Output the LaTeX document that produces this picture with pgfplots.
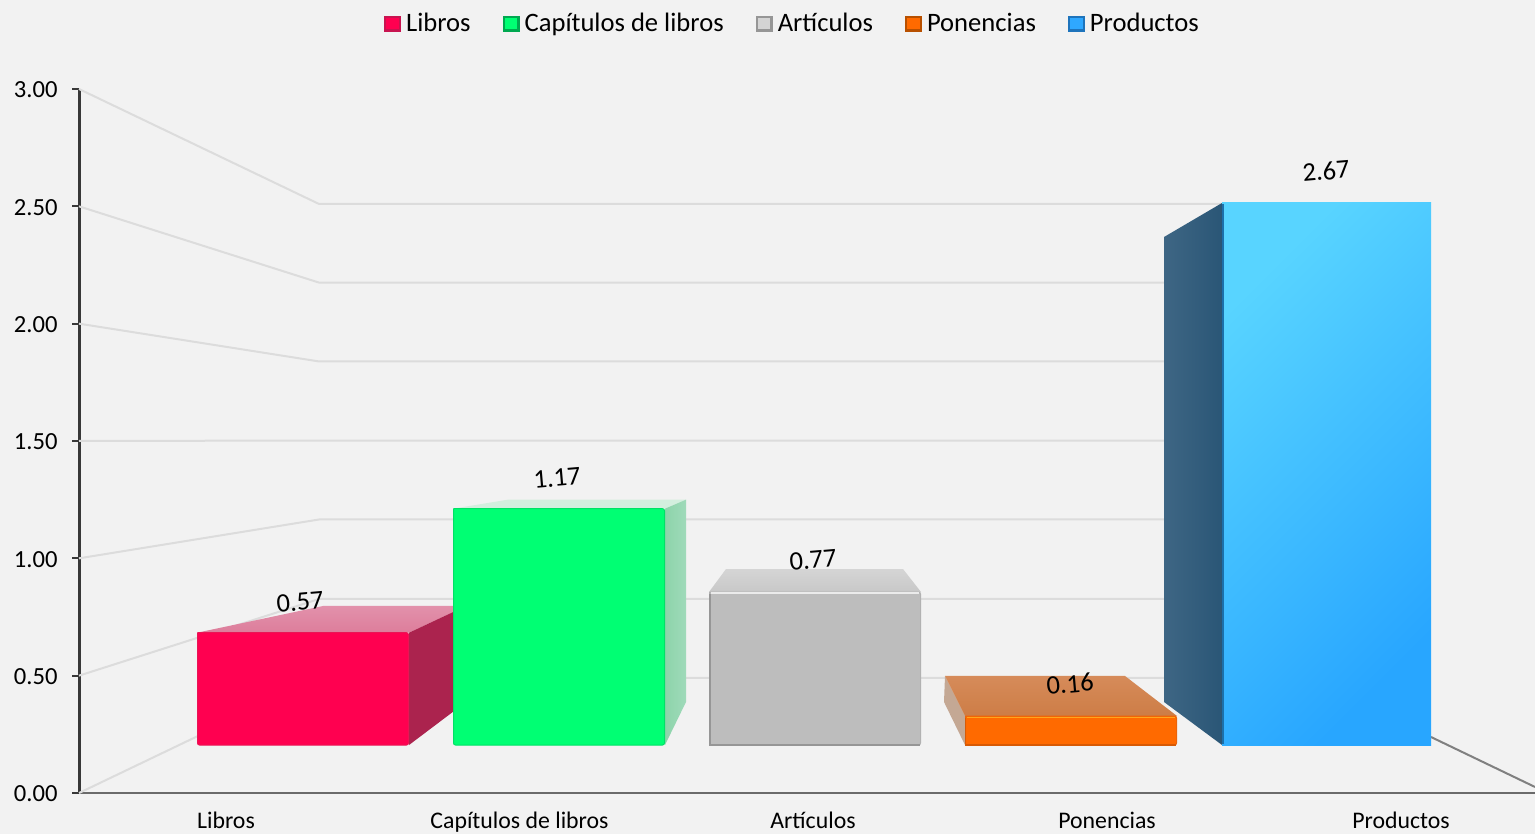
\documentclass[border=0pt]{standalone}
\usepackage{pgfplots}
\pgfplotsset{compat=1.18}
\usepackage{fontspec}
\setmainfont{Carlito}
\definecolor{bg}{HTML}{F2F2F2}
\definecolor{gridc}{HTML}{DCDCDC}
\definecolor{lA}{HTML}{C81450}\definecolor{lAi}{HTML}{FF0050}
\definecolor{lB}{HTML}{00A850}\definecolor{lBi}{HTML}{00FF73}
\definecolor{lC}{HTML}{969696}\definecolor{lCi}{HTML}{D4D4D4}
\definecolor{lD}{HTML}{B85000}\definecolor{lDi}{HTML}{FF6A00}
\definecolor{lE}{HTML}{1E74BC}\definecolor{lEi}{HTML}{2FA8FF}
\newcommand{\legimg}[2]{\addlegendimage{legend image code/.code={%
  \fill[#1] (0pt,-3.75pt) rectangle (8pt,3.75pt);
  \fill[#2] (1.2pt,-2.4pt) rectangle (6.8pt,2.8pt);
  \path (9.6pt,0pt);}}}
\begin{document}
\begin{tikzpicture}
\fill[bg] (0,0) rectangle (767.5pt,417pt);
\path[use as bounding box] (0,0) rectangle (767.5pt,417pt);
\begin{axis}[
  at={(39.5pt,20.5pt)}, anchor=south west,
  scale only axis, width=728pt, height=352pt,
  xmin=79, xmax=1535, ymin=0, ymax=3,
  axis x line=bottom, axis y line=left,
  x axis line style={-, line width=1.4pt, color=black!58},
  y axis line style={-, line width=1.5pt, color=black!78},
  xtick={226,519.5,813,1107,1401},
  xticklabels={Libros,Capítulos de libros,Artículos,Ponencias,Productos},
  xtick style={draw=none},
  ytick={0,0.5,1,1.5,2,2.5,3},
  ytick style={line width=1pt, color=black!78},
  tick align=outside, major tick length=3.5pt,
  /pgf/number format/assume math mode=true,
  /pgf/number format/fixed, /pgf/number format/fixed zerofill, /pgf/number format/precision=2,
  yticklabel style={font=\fontsize{12.3}{14}\selectfont, inner sep=0pt, xshift=-7pt, yshift=-0.4pt},
  xticklabel style={font=\fontsize{11.9}{14}\selectfont, inner sep=0pt, anchor=base, yshift=-14.3pt},
  legend columns=5,
  legend style={draw=none, fill=none, at={(0.4900,1.0925)}, anchor=center,
    font=\fontsize{13.3}{15}\selectfont, inner sep=0pt,
    /tikz/every even column/.append style={column sep=15pt},
    nodes={inner sep=1pt}},
  legend cell align=left,
  clip=false,
]
\legimg{lA}{lAi}
\legimg{lB}{lBi}
\legimg{lC}{lCi}
\legimg{lD}{lDi}
\legimg{lE}{lEi}
\legend{Libros,Capítulos de libros,Artículos,Ponencias,Productos}

% gridlines: side wall then back wall
\pgfplotsset{every axis plot/.append style={forget plot}}
\addplot[gridc,line width=1pt,no marks] coordinates {(79,3) (319,2.510) (1309,2.510)};
\addplot[gridc,line width=1pt,no marks] coordinates {(79,2.5) (319,2.175) (1309,2.175)};
\addplot[gridc,line width=1pt,no marks] coordinates {(79,2) (319,1.839) (1309,1.839)};
\addplot[gridc,line width=1pt,no marks] coordinates {(79,1.5) (319,1.502) (1309,1.502)};
\addplot[gridc,line width=1pt,no marks] coordinates {(79,1) (319,1.1655) (1309,1.1655)};
\addplot[gridc,line width=1pt,no marks] coordinates {(79,0.5) (319,0.8267) (1309,0.8267)};
\addplot[gridc,line width=1pt,no marks] coordinates {(79,0) (319,0.4901) (1309,0.4901)};
\addplot[black!50,line width=1pt,no marks] coordinates {(1431,0.2386) (1535,0.0256)};

% Libros
\addplot[draw=none,no marks,top color={rgb,255:red,226;green,145;blue,171},bottom color={rgb,255:red,221;green,125;blue,155}]
  coordinates {(197,0.6830) (323,0.7969) (466,0.7969) (409,0.6830) (197,0.6830)};
\addplot[draw=none,no marks,fill={rgb,255:red,171;green,35;blue,78}]
  coordinates {(409,0.6830) (466,0.7969) (466,0.3878) (409,0.2045) (409,0.6830)};
\addplot[no marks,fill={rgb,255:red,255;green,0;blue,80},draw={rgb,255:red,235;green,20;blue,85},line width=0.5pt,rounded corners=1pt]
  coordinates {(197.5,0.6830) (408.5,0.6830) (408.5,0.2045) (197.5,0.2045) (197.5,0.6830)};

% Capítulos de libros
\addplot[draw=none,no marks,fill={rgb,255:red,211;green,239;blue,222}]
  coordinates {(453,1.2115) (508,1.2500) (686,1.2500) (665,1.2115) (453,1.2115)};
\addplot[draw=none,no marks,left color={rgb,255:red,140;green,212;blue,170},right color={rgb,255:red,160;green,218;blue,186}]
  coordinates {(665,1.2115) (686,1.2500) (686,0.3878) (665,0.2045) (665,1.2115)};
\addplot[no marks,fill={rgb,255:red,0;green,255;blue,115},draw={rgb,255:red,0;green,225;blue,102},line width=0.5pt,rounded corners=1pt]
  coordinates {(453.5,1.2115) (664.5,1.2115) (664.5,0.2045) (453.5,0.2045) (453.5,1.2115)};

% Artículos
\addplot[draw=none,no marks,top color={rgb,255:red,213;green,213;blue,213},bottom color={rgb,255:red,200;green,200;blue,200}]
  coordinates {(709,0.8565) (726,0.9545) (903,0.9545) (921,0.8565) (709,0.8565)};
\addplot[no marks,fill={rgb,255:red,189;green,189;blue,189},draw={rgb,255:red,178;green,178;blue,178},line width=0.5pt,rounded corners=1pt]
  coordinates {(709.5,0.8565) (920.5,0.8565) (920.5,0.2045) (709.5,0.2045) (709.5,0.8565)};
\addplot[no marks,draw={rgb,255:red,235;green,235;blue,235},line width=0.8pt]
  coordinates {(711,0.8525) (919,0.8525)};
\addplot[no marks,draw={rgb,255:red,150;green,150;blue,150},line width=0.8pt]
  coordinates {(710,0.8500) (710,0.2045) (920,0.2045)};

% Ponencias
\addplot[draw=none,no marks,fill={rgb,255:red,196;green,168;blue,148}]
  coordinates {(945,0.4986) (965,0.3281) (965,0.2045) (944,0.3878) (945,0.4986)};
\addplot[draw=none,no marks,top color={rgb,255:red,214;green,139;blue,90},bottom color={rgb,255:red,205;green,125;blue,70}]
  coordinates {(945,0.4986) (1125,0.4986) (1177,0.3281) (965,0.3281) (945,0.4986)};
\addplot[no marks,fill={rgb,255:red,255;green,106;blue,0},draw={rgb,255:red,235;green,100;blue,10},line width=0.5pt,rounded corners=1pt]
  coordinates {(965.5,0.3281) (1176.5,0.3281) (1176.5,0.2045) (965.5,0.2045) (965.5,0.3281)};
\addplot[no marks,draw={rgb,255:red,255;green,165;blue,30},line width=0.7pt]
  coordinates {(967,0.3225) (1175,0.3225)};
\addplot[no marks,draw={rgb,255:red,215;green,90;blue,5},line width=0.6pt]
  coordinates {(965.5,0.3200) (965.5,0.2045) (1176,0.2045)};

% Productos
\addplot[draw=none,no marks,left color={rgb,255:red,62;green,102;blue,132},right color={rgb,255:red,42;green,86;blue,118}]
  coordinates {(1222,2.5142) (1164,2.3693) (1164,0.3878) (1222,0.2045) (1222,2.5142)};
\addplot[no marks,draw=none,top color={rgb,255:red,88;green,212;blue,255},middle color={rgb,255:red,52;green,178;blue,255},bottom color={rgb,255:red,40;green,166;blue,255},shading angle=45]
  coordinates {(1222,2.5142) (1431,2.5142) (1431,0.2045) (1222,0.2045) (1222,2.5142)};
\addplot[no marks,draw={rgb,255:red,28;green,112;blue,170},line width=1pt]
  coordinates {(1223,2.5100) (1223,0.2100)};

% value labels
\addplot[draw=none,no marks,nodes near coords,point meta=explicit symbolic,
  nodes near coords style={anchor=center,rotate=5,inner sep=0pt,font=\fontsize{13.3}{15}\selectfont,color=black}]
  table[meta=label] {
  x y label
  300 0.814 0.57
  557 1.342 1.17
  813 0.993 0.77
  1070 0.4645 0.16
  1326 2.651 2.67
};
\end{axis}
\end{tikzpicture}
\end{document}
